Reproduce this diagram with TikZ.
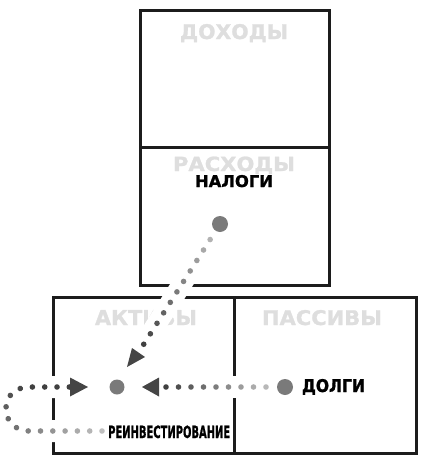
\documentclass[tikz,border=0pt]{standalone}
\usepackage{fontspec}
\setmainfont{DejaVu Sans}
\newfontfamily\heavyfont[FakeBold=1.2]{DejaVu Sans Bold}
\usetikzlibrary{calc,decorations.markings}
\definecolor{ghost}{HTML}{DEDEDE}
\definecolor{framec}{HTML}{1C1C1C}
\definecolor{bigdotc}{HTML}{7A7A7A}
\definecolor{arrowc}{HTML}{454545}
\begin{document}
\begin{tikzpicture}[x=1pt,y=-1pt,
  frameline/.style={draw=framec,line width=3pt},
  ghostlabel/.style={text=ghost,font=\heavyfont,inner sep=0pt,anchor=base},
  blacklabel/.style={text=black,font=\heavyfont,inner sep=0pt,anchor=base},
  bigdot/.style={circle,fill=bigdotc,minimum size=16pt,inner sep=0pt},
  halo/.style={draw=white,line width=22pt},
  head/.style={fill=arrowc}]
\useasboundingbox (0,0) rectangle (422,461);
% frames
\draw[frameline] (140,10) rectangle (329,285);
\draw[frameline] (140,147) -- (329,147);
\draw[frameline] (53,297) rectangle (416,453);
\draw[frameline] (234,297) -- (234,453);
% ghost labels
\node[ghostlabel] (dohody) at (234,39) {\resizebox{108pt}{15pt}{ДОХОДЫ}};
\node[ghostlabel] (rashody) at (234,171) {\resizebox{122pt}{14.5pt}{РАСХОДЫ}};
\node[ghostlabel] (aktivy) at (146,325) {\resizebox{102pt}{15pt}{АКТИВЫ}};
\node[ghostlabel] (passivy) at (322,325) {\resizebox{120pt}{15pt}{ПАССИВЫ}};
% positions
\coordinate (nalogipos) at (220,224);
\coordinate (aktivpos) at (117,387);
\coordinate (dolgipos) at (285,387);
\coordinate (nhead) at (138.5,352.5);
\coordinate (dhead) at (159,387);
\coordinate (rstart) at (102,431);
\coordinate (rhead) at (70,387);
% halos that cut the frames where the dotted lines cross them
\draw[halo,line width=20pt] ($(nalogipos)!12pt!(nhead)$) -- (nhead);
\draw[halo] ($(dolgipos)!12pt!(dhead)$) -- (dhead);
\draw[halo] (rstart) -- (30,431) .. controls (14,431) and (6,420) .. (6,409)
  .. controls (6,397) and (14,387) .. (30,387) -- (rhead);
% big dots
\node[bigdot] (nalogidot) at (nalogipos) {};
\node[bigdot,minimum size=15pt] (aktivdot) at (aktivpos) {};
\node[bigdot] (dolgidot) at (dolgipos) {};
% dotted connectors
\foreach \k in {0,...,10}{
  \pgfmathsetmacro\d{18.4+12.4*\k}
  \pgfmathsetmacro\c{int(30+45*\k/10)}
  \fill[black!\c] ($(nalogidot.center)!\d pt!(nhead)$) circle[radius=2.8pt];
}
\foreach \k in {0,...,8}{
  \pgfmathsetmacro\d{19+12.5*\k}
  \pgfmathsetmacro\c{int(28+47*\k/8)}
  \fill[black!\c] ($(dolgidot.center)!\d pt!(dhead)$) circle[radius=2.8pt];
}
\path[postaction={decorate},decoration={markings,
  mark=between positions 0 and 1 step 12.3pt with {
    \pgfmathsetmacro\c{int(25+50*min(1,1.3*\pgfkeysvalueof{/pgf/decoration/mark info/distance from start}/\pgfdecoratedpathlength))}
    \fill[black!\c] (0,0) circle[radius=2.8pt];}}]
  (rstart) -- (30,431) .. controls (14,431) and (6,420) .. (6,409)
  .. controls (6,397) and (14,387) .. (30,387) -- (rhead);
% arrowheads
\fill[head] (132,348) -- (145,357) -- (127,367) -- cycle;
\fill[head] (dhead) ++(0,-9.5) -- ++(0,19) -- (142,387) -- cycle;
\fill[head] (rhead) ++(0,-9.5) -- ++(0,19) -- (88,387) -- cycle;
% black labels
\node[blacklabel] (nalogi) at (234,187) {\resizebox{78pt}{12pt}{НАЛОГИ}};
\node[blacklabel] (dolgi) at (333.5,392) {\resizebox{63pt}{13pt}{ДОЛГИ}};
\node[blacklabel,anchor=base west] (reinv) at (108,438) {\resizebox{122pt}{12.5pt}{РЕИНВЕСТИРОВАНИЕ}};
\end{tikzpicture}
\end{document}
